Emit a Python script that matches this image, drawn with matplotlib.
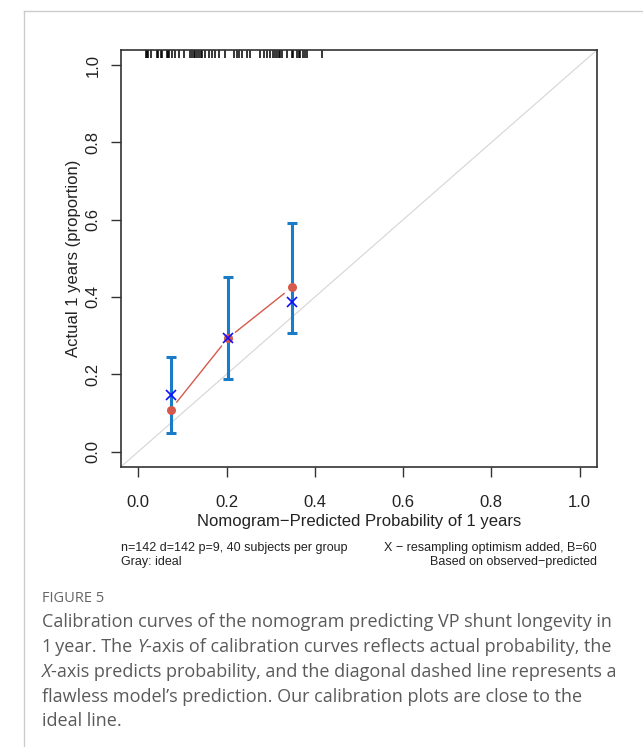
import numpy as np
import matplotlib
matplotlib.use("Agg")
import matplotlib.pyplot as plt
from matplotlib.text import Annotation

# predicted probability of each group (x) and the observed proportions
grp_pred = [0.073, 0.2025, 0.348]
obs_apparent = [0.108, 0.293, 0.425]
obs_corrected = [0.1465, 0.293, 0.388]
ci_lo = [0.0475, 0.188, 0.306]
ci_hi = [0.2447, 0.452, 0.592]

# rug of individual predicted probabilities (top of plot)
rug = [0.0165, 0.020, 0.0226, 0.0278, 0.0413, 0.0443, 0.0504, 0.0542, 0.064,
       0.067, 0.069, 0.0768, 0.082, 0.0918, 0.103, 0.118, 0.122, 0.1257,
       0.129, 0.133, 0.137, 0.141, 0.1446, 0.152, 0.1596, 0.167, 0.1747,
       0.182, 0.197, 0.216, 0.2237, 0.227, 0.235, 0.246, 0.2537, 0.275,
       0.284, 0.291, 0.299, 0.306, 0.310, 0.314, 0.318, 0.3215, 0.325,
       0.337, 0.348, 0.3516, 0.359, 0.363, 0.3667, 0.374, 0.378, 0.382,
       0.4157]

ticks = [0.0, 0.2, 0.4, 0.6, 0.8, 1.0]
tick_labels = ["0.0", "0.2", "0.4", "0.6", "0.8", "1.0"]

RED = "#d6594b"
ERR = "#1a7bc6"
TXT = "#222222"
CAP = "#5a5a5a"

plt.rcParams['font.family'] = ['Liberation Sans', 'DejaVu Sans']

fig = plt.figure(figsize=(6.43, 7.47), dpi=100)
ax = fig.add_axes([0.1877, 0.3748, 0.7412, 0.5587])
ax.set_xlim(-0.04, 1.04)
ax.set_ylim(-0.04, 1.04)

# ideal line
ax.plot([-0.04, 1.04], [-0.04, 1.04], color="#d9d9d9", lw=0.9, zorder=1)

# error bars
yerr = [np.array(obs_apparent) - np.array(ci_lo),
        np.array(ci_hi) - np.array(obs_apparent)]
ax.errorbar(grp_pred, obs_apparent, yerr=yerr, fmt="none", ecolor=ERR,
            elinewidth=2.2, capsize=3.6, capthick=2.2, zorder=2)

# apparent curve: points joined by segments with a gap (R type="b")
for i in range(len(grp_pred) - 1):
    ax.annotate("", xy=(grp_pred[i + 1], obs_apparent[i + 1]),
                xytext=(grp_pred[i], obs_apparent[i]),
                arrowprops=dict(arrowstyle="-", color=RED, lw=1.0,
                                shrinkA=7, shrinkB=7), zorder=3)
ax.plot(grp_pred, obs_apparent, "o", color=RED, ms=6.5, mew=0, zorder=4)
ax.plot(grp_pred, obs_corrected, "x", color="#1010ff", ms=6.5, mew=1.2, zorder=5)

# rug
ax.vlines(rug, 1 - 0.019, 1, transform=ax.get_xaxis_transform(),
          color="black", lw=1.1)

for s in ax.spines.values():
    s.set_linewidth(1.2)
    s.set_color("#333333")

ax.set_xticks(ticks)
ax.set_xticklabels(tick_labels)
ax.set_yticks(ticks)
ax.set_yticklabels(tick_labels, rotation=90, va="center")
ax.tick_params(length=7.5, width=1.0, color="#333333", labelsize=12,
               labelcolor=TXT)
ax.tick_params(axis="x", pad=12.5)
ax.tick_params(axis="y", pad=7)

ax.set_xlabel("Nomogram\u2212Predicted Probability of 1 years", fontsize=12,
              color=TXT, labelpad=3)
ax.set_ylabel("Actual 1 years (proportion)", fontsize=12, color=TXT,
              labelpad=3)

# notes below the plot
W, H = 643.0, 747.0
fig.text(121 / W, 1 - 548 / H, "n=142 d=142 p=9, 40 subjects per group",
         fontsize=9, color=TXT, ha="left", va="center")
fig.text(121 / W, 1 - 562 / H, "Gray: ideal", fontsize=9, color=TXT,
         ha="left", va="center")
fig.text(597 / W, 1 - 548 / H, "X \u2212 resampling optimism added, B=60",
         fontsize=9, color=TXT, ha="right", va="center")
fig.text(597 / W, 1 - 562 / H, "Based on observed\u2212predicted",
         fontsize=9, color=TXT, ha="right", va="center")

# page frame
fig.add_artist(plt.Line2D([24 / W, 24 / W], [0, 1 - 11 / H], color="#cccccc",
                          lw=1.0, transform=fig.transFigure))
fig.add_artist(plt.Line2D([24 / W, 1], [1 - 11 / H, 1 - 11 / H],
                          color="#cccccc", lw=1.0, transform=fig.transFigure))

# caption
cfont = ['Open Sans', 'DejaVu Sans']
csize = 13
fig.text(42 / W, 1 - 598 / H, "FIGURE 5", fontsize=10.5, color="#666666",
         family=cfont, ha="left", va="center")


def caption_line(y, parts):
    prev = None
    for txt, style in parts:
        if prev is None:
            prev = fig.text(42 / W, 1 - y / H, txt, fontsize=csize, color=CAP,
                            family=cfont, style=style, ha="left", va="center")
        else:
            prev = fig.add_artist(Annotation(
                txt, xy=(1, 0.5), xycoords=prev, xytext=(0, 0),
                textcoords="offset points", fontsize=csize, color=CAP,
                family=cfont, style=style, ha="left", va="center",
                annotation_clip=False))
    return prev


caption_line(622, [("Calibration curves of the nomogram predicting VP shunt longevity in", "normal")])
caption_line(647, [("1\u2009year. The ", "normal"), ("Y", "italic"),
                   ("-axis of calibration curves reflects actual probability, the", "normal")])
caption_line(672, [("X", "italic"),
                   ("-axis predicts probability, and the diagonal dashed line represents a", "normal")])
caption_line(697, [("flawless model\u2019s prediction. Our calibration plots are close to the", "normal")])
caption_line(721, [("ideal line.", "normal")])

fig.savefig("out.png", dpi=100, facecolor="white")
